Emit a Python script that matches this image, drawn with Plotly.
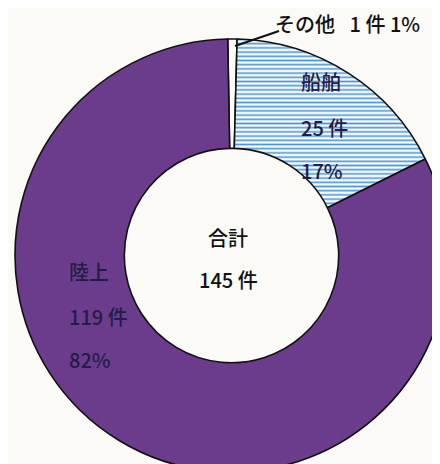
import plotly.graph_objects as go

# data
labels = ['その他', '船舶', '陸上']
counts = [1, 25, 119]
percents = [1, 17, 82]
total = sum(counts)

W, H = 440, 464
FONT = 'Noto Sans CJK JP'
BG = '#fbfaf6'
PURPLE = '#6b3c8c'
TEXT_DARK = '#231c45'


def px(x, y):
    # pixel position -> paper coords
    return x / W, 1 - y / H


def label(text, x, y, size=20, color='#111111', xanchor='center'):
    # small nudge: rendered annotation text sits ~9px right/down of its anchor
    xp, yp = px(x - 9, y - 9)
    return dict(
        text=text, x=xp, y=yp, xref='paper', yref='paper',
        showarrow=False, xanchor=xanchor, yanchor='middle',
        font=dict(family=FONT, size=size, color=color, weight=500),
    )


fig = go.Figure(go.Pie(
    labels=labels,
    values=counts,
    sort=False,
    direction='clockwise',
    rotation=-1,
    hole=0.495,
    textinfo='none',
    hoverinfo='label+value+percent',
    marker=dict(
        colors=['#fdfcf8', '#f6f9fc', PURPLE],
        line=dict(color='#111111', width=1.6),
        pattern=dict(
            shape=['', '-', ''],
            fgcolor='#4a98d6',
            bgcolor=['#fdfcf8', '#f6f9fc', PURPLE],
            size=4.2,
            solidity=0.38,
        ),
    ),
    domain=dict(x=[7 / W, 1], y=[0, 1 - 31 / H]),
))

annotations = [
    label(f'{labels[0]}\u2002 {counts[0]} 件 {percents[0]}%', 274, 24, xanchor='left'),
    label(labels[1], 300, 82, color=TEXT_DARK, xanchor='left'),
    label(f'{counts[1]} 件', 300, 128, color=TEXT_DARK, xanchor='left'),
    label(f'{percents[1]}%', 300, 172, color=TEXT_DARK, xanchor='left'),
    label('合計', 229, 238),
    label(f'{total} 件', 229, 280),
    label(labels[2], 68, 272, color=TEXT_DARK, xanchor='left'),
    label(f'{counts[2]} 件', 68, 317, color=TEXT_DARK, xanchor='left'),
    label(f'{percents[2]}%', 68, 360, color=TEXT_DARK, xanchor='left'),
]

x0, y0 = px(227, 38)
x1, y1 = px(271, 23)
fig.add_shape(type='line', xref='paper', yref='paper', x0=x0, y0=y0, x1=x1, y1=y1,
              line=dict(color='#111111', width=2.2))

fig.update_layout(
    width=W, height=H,
    margin=dict(l=0, r=0, t=0, b=0),
    paper_bgcolor=BG,
    plot_bgcolor=BG,
    showlegend=False,
    annotations=annotations,
)

fig.write_html('out.html')
